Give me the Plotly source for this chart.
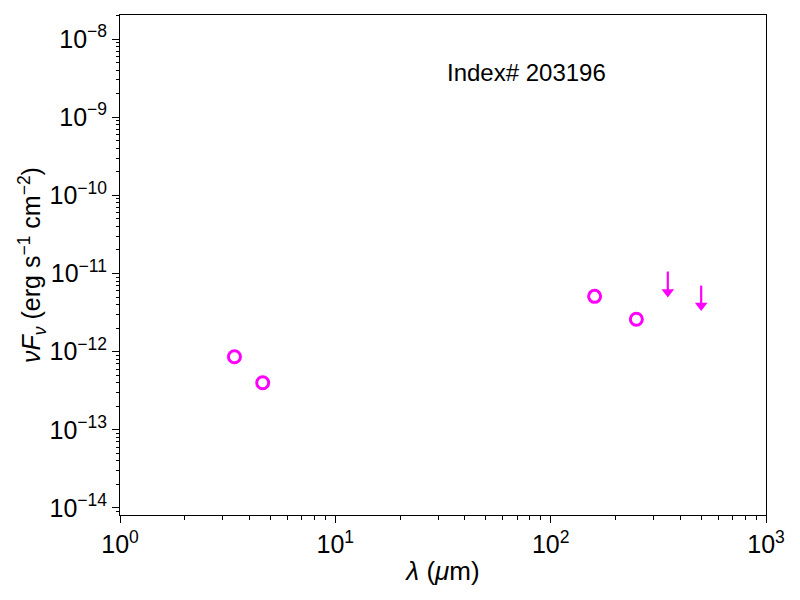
import plotly.graph_objects as go

# detections (open circles)
wave_um = [3.4, 4.6, 160.0, 250.0]
nufnu = [8.6e-13, 4.0e-13, 5.1e-12, 2.6e-12]

# upper limits (downward arrows): wavelength, arrow top, arrow tip
lim_wave_um = [350.0, 500.0]
lim_top = [1.06e-11, 7.0e-12]
lim_tip = [5.8e-12, 3.9e-12]

label = "Index# 203196"

x_major = [1, 10, 100, 1000]
x_ticktext = ["10<sup>0</sup>", "10<sup>1</sup>", "10<sup>2</sup>", "10<sup>3</sup>"]
y_major = [1e-14, 1e-13, 1e-12, 1e-11, 1e-10, 1e-9, 1e-8]
y_ticktext = ["10<sup>\u221214</sup>", "10<sup>\u221213</sup>", "10<sup>\u221212</sup>",
              "10<sup>\u221211</sup>", "10<sup>\u221210</sup>", "10<sup>\u22129</sup>",
              "10<sup>\u22128</sup>"]

MAG = "#ff00ff"
FONT = "Liberation Sans, Arial, sans-serif"

x_minor = [m * 10 ** e for e in range(0, 3) for m in range(2, 10)]
y_minor = [m * 10.0 ** e for e in range(-15, -7) for m in range(2, 10)]

fig = go.Figure()

fig.add_trace(go.Scatter(
    x=wave_um, y=nufnu, mode="markers",
    marker=dict(symbol="circle-open", size=12, color=MAG, line=dict(width=3, color=MAG)),
    showlegend=False,
))

# arrow shafts
sx, sy = [], []
for w, t, b in zip(lim_wave_um, lim_top, lim_tip):
    sx += [w, w, None]
    sy += [t, b, None]
fig.add_trace(go.Scatter(x=sx, y=sy, mode="lines", line=dict(color=MAG, width=2.2), showlegend=False))

# arrow heads
fig.add_trace(go.Scatter(
    x=lim_wave_um, y=lim_tip, mode="markers",
    marker=dict(symbol="triangle-down", size=11, color=MAG, line=dict(width=0)),
    showlegend=False,
))

fig.add_annotation(text=label, x=0.63, y=0.916, xref="paper", yref="paper",
                   showarrow=False, font=dict(size=24, color="black", family=FONT))

axis_common = dict(
    showgrid=False, zeroline=False, showline=True, linecolor="black", linewidth=1,
    mirror=True, ticks="outside", ticklen=7, tickwidth=1, tickcolor="black",
    tickfont=dict(size=25, color="black", family=FONT),
)

fig.update_xaxes(
    type="log", range=[0, 3], tickvals=x_major, ticktext=x_ticktext,
    title=dict(text="<i>\u03bb</i> (<i>\u03bc</i>m)", font=dict(size=26, color="black", family=FONT), standoff=4),
    minor=dict(tickvals=x_minor, ticks="outside", ticklen=3.5, tickcolor="black", tickwidth=1),
    **axis_common,
)
fig.update_yaxes(
    type="log", range=[-14.09, -7.692], tickvals=y_major, ticktext=y_ticktext,
    title=dict(text="<i>\u03bdF<sub>\u03bd</sub></i> (erg s<sup>\u22121</sup> cm<sup>\u22122</sup>)",
               font=dict(size=25, color="black", family=FONT), standoff=0),
    minor=dict(tickvals=y_minor, ticks="outside", ticklen=3.5, tickcolor="black", tickwidth=1),
    **axis_common,
)

fig.update_layout(
    width=800, height=600,
    margin=dict(l=112, r=42, t=7, b=93, autoexpand=False),
    plot_bgcolor="white", paper_bgcolor="white",
    font=dict(family=FONT, color="black"),
)

fig.write_html("out.html")
